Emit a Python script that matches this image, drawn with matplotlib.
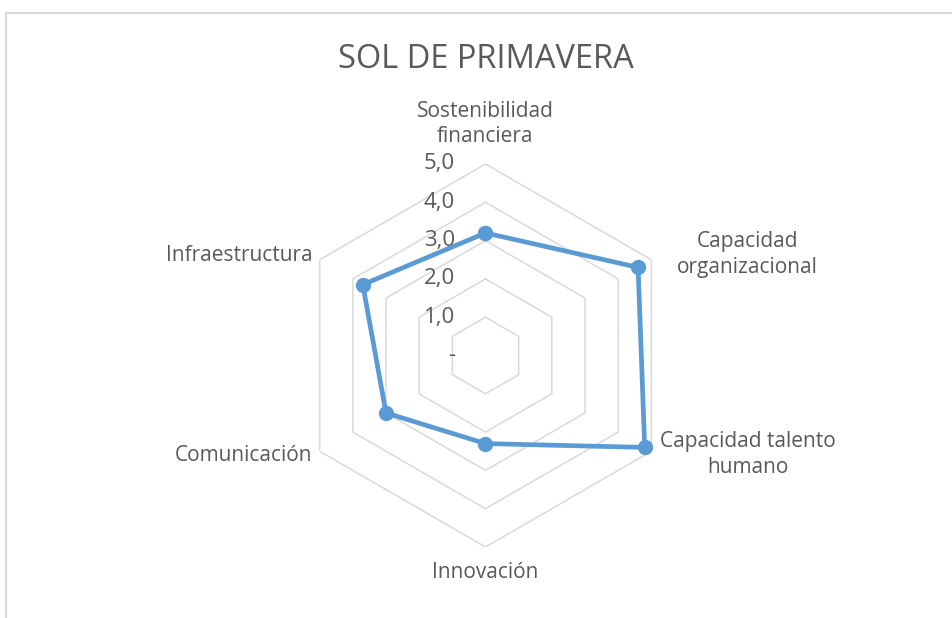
import numpy as np
import matplotlib
matplotlib.use('Agg')
from matplotlib import pyplot as plt
from matplotlib.patches import Rectangle

plt.rcParams['font.family'] = ['Open Sans', 'DejaVu Sans']

titulo = 'SOL DE PRIMAVERA'
categorias = ['Sostenibilidad\nfinanciera', 'Capacidad\norganizacional', 'Capacidad talento\nhumano',
              'Innovación', 'Comunicación', 'Infraestructura']
valores = [3.2, 4.6, 4.8, 2.3, 3.0, 3.7]
anillos = [1, 2, 3, 4, 5]
etiquetas_r = ['-', '1,0', '2,0', '3,0', '4,0', '5,0']

gris_txt = '#595959'
gris_red = '#D9D9D9'
azul = '#5B9BD5'

W, H = 953, 618
fig = plt.figure(figsize=(W/100, H/100), dpi=100)

# marco del grafico (solo se ve arriba e izquierda)
fig.patches.append(Rectangle((6/W, -0.1), 1.2, (H-13)/H + 0.1, transform=fig.transFigure,
                             fill=False, edgecolor=gris_red, lw=1.5))

cx, cy, r = 485.5, 355.5, 191.5
ax = fig.add_axes([(cx-r)/W, (H-cy-r)/H, 2*r/W, 2*r/H], projection='polar')
ax.set_theta_offset(np.pi/2)
ax.set_theta_direction(-1)
ax.set_ylim(0, 5)
ax.grid(False)
ax.spines['polar'].set_visible(False)
ax.set_xticks([])
ax.set_yticks([])
ax.patch.set_alpha(0)

n = len(categorias)
ang = np.arange(n) * 2*np.pi/n
ang_c = np.append(ang, ang[0])

# red hexagonal
for a in anillos:
    ax.plot(ang_c, [a]*(n+1), color=gris_red, lw=1.1, zorder=1)

# etiquetas del eje radial
for i, t in enumerate(etiquetas_r):
    ax.annotate(t, xy=(0, i), xytext=(-22, 0), textcoords='offset points',
                ha='right', va='center', fontsize=16, color=gris_txt)

# serie
v = valores + valores[:1]
ax.plot(ang_c, v, color=azul, lw=3.4, marker='o', markersize=10, zorder=3,
        solid_joinstyle='round', clip_on=False)

# etiquetas de categorias (desplazamiento en pixeles)
desp = [(0, 40, 'center'), (26, 5, 'left'), (9, -3.5, 'left'),
        (0, -25, 'center'), (-7, -4, 'right'), (-7, 4, 'right')]
for i, c in enumerate(categorias):
    dx, dy, ha = desp[i]
    ax.annotate(c, xy=(ang[i], 5), xytext=(dx*0.72, dy*0.72), textcoords='offset points',
                ha=ha, va='center', multialignment='center', fontsize=15, color=gris_txt,
                annotation_clip=False, linespacing=1.3)

fig.text(cx/W, 1 - 59/H, titulo, ha='center', va='center', fontsize=23.5, color=gris_txt)

fig.savefig('out.png', dpi=100)
